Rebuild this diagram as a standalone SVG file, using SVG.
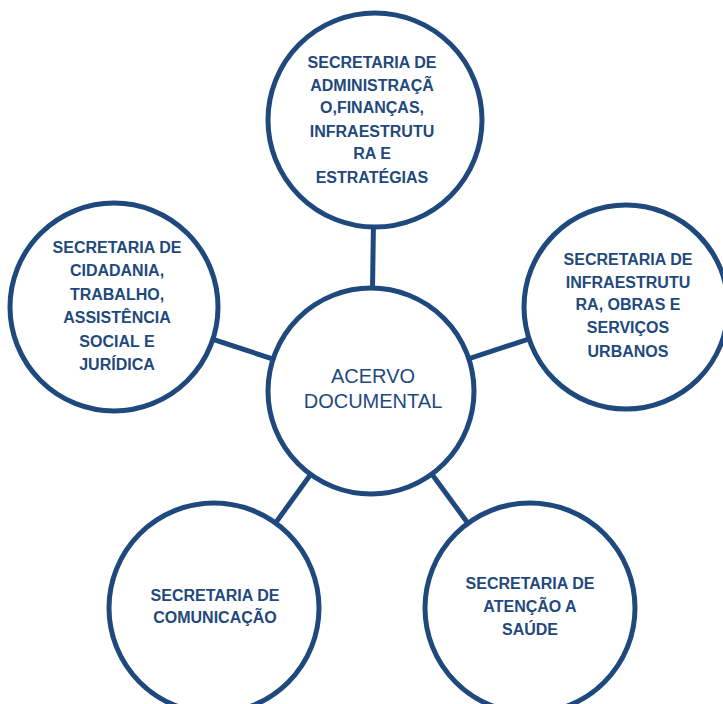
<svg xmlns="http://www.w3.org/2000/svg" width="723" height="704" viewBox="0 0 723 704">
  <style>
    .link { stroke: #1F497D; stroke-width: 5; fill: none; }
    .node { fill: #FFFFFF; stroke: #1F497D; stroke-width: 5; }
    .label { font-family: "Liberation Sans", Arial, sans-serif; font-size: 16px; font-weight: bold; fill: #1F497D; text-anchor: middle; }
    .hub { font-family: "Liberation Sans", Arial, sans-serif; font-size: 20px; fill: #1F497D; text-anchor: middle; }
  </style>
  <rect width="723" height="704" fill="#FFFFFF"/>

  <!-- spokes from the hub to each secretariat -->
  <g id="connectors">
    <line class="link" x1="371" y1="391" x2="375" y2="120"/>
    <line class="link" x1="371" y1="391" x2="114" y2="307"/>
    <line class="link" x1="371" y1="391" x2="626" y2="307"/>
    <line class="link" x1="371" y1="391" x2="214" y2="608"/>
    <line class="link" x1="371" y1="391" x2="530" y2="608"/>
  </g>

  <g id="hub">
    <circle class="node" cx="371" cy="391" r="103"/>
    <text class="hub" x="373" y="383">ACERVO</text>
    <text class="hub" x="373" y="408">DOCUMENTAL</text>
  </g>

  <g id="sec-administracao">
    <circle class="node" cx="375" cy="120" r="107"/>
    <text class="label" x="372" y="68">SECRETARIA DE</text>
    <text class="label" x="372" y="91">ADMINISTRAÇÃ</text>
    <text class="label" x="372" y="113">O,FINANÇAS,</text>
    <text class="label" x="372" y="137">INFRAESTRUTU</text>
    <text class="label" x="372" y="159">RA E</text>
    <text class="label" x="372" y="183">ESTRATÉGIAS</text>
  </g>

  <g id="sec-cidadania">
    <circle class="node" cx="114" cy="307" r="104"/>
    <text class="label" x="117" y="253">SECRETARIA DE</text>
    <text class="label" x="117" y="276">CIDADANIA,</text>
    <text class="label" x="117" y="300">TRABALHO,</text>
    <text class="label" x="117" y="323">ASSISTÊNCIA</text>
    <text class="label" x="117" y="347">SOCIAL E</text>
    <text class="label" x="117" y="370">JURÍDICA</text>
  </g>

  <g id="sec-infraestrutura">
    <circle class="node" cx="626" cy="307" r="102"/>
    <text class="label" x="628" y="265">SECRETARIA DE</text>
    <text class="label" x="628" y="288">INFRAESTRUTU</text>
    <text class="label" x="628" y="310">RA, OBRAS E</text>
    <text class="label" x="628" y="333">SERVIÇOS</text>
    <text class="label" x="628" y="357">URBANOS</text>
  </g>

  <g id="sec-comunicacao">
    <circle class="node" cx="214" cy="608" r="105"/>
    <text class="label" x="215" y="601">SECRETARIA DE</text>
    <text class="label" x="215" y="623">COMUNICAÇÃO</text>
  </g>

  <g id="sec-saude">
    <circle class="node" cx="530" cy="608" r="105"/>
    <text class="label" x="530" y="589">SECRETARIA DE</text>
    <text class="label" x="530" y="612">ATENÇÃO A</text>
    <text class="label" x="530" y="635">SAÚDE</text>
  </g>
</svg>
